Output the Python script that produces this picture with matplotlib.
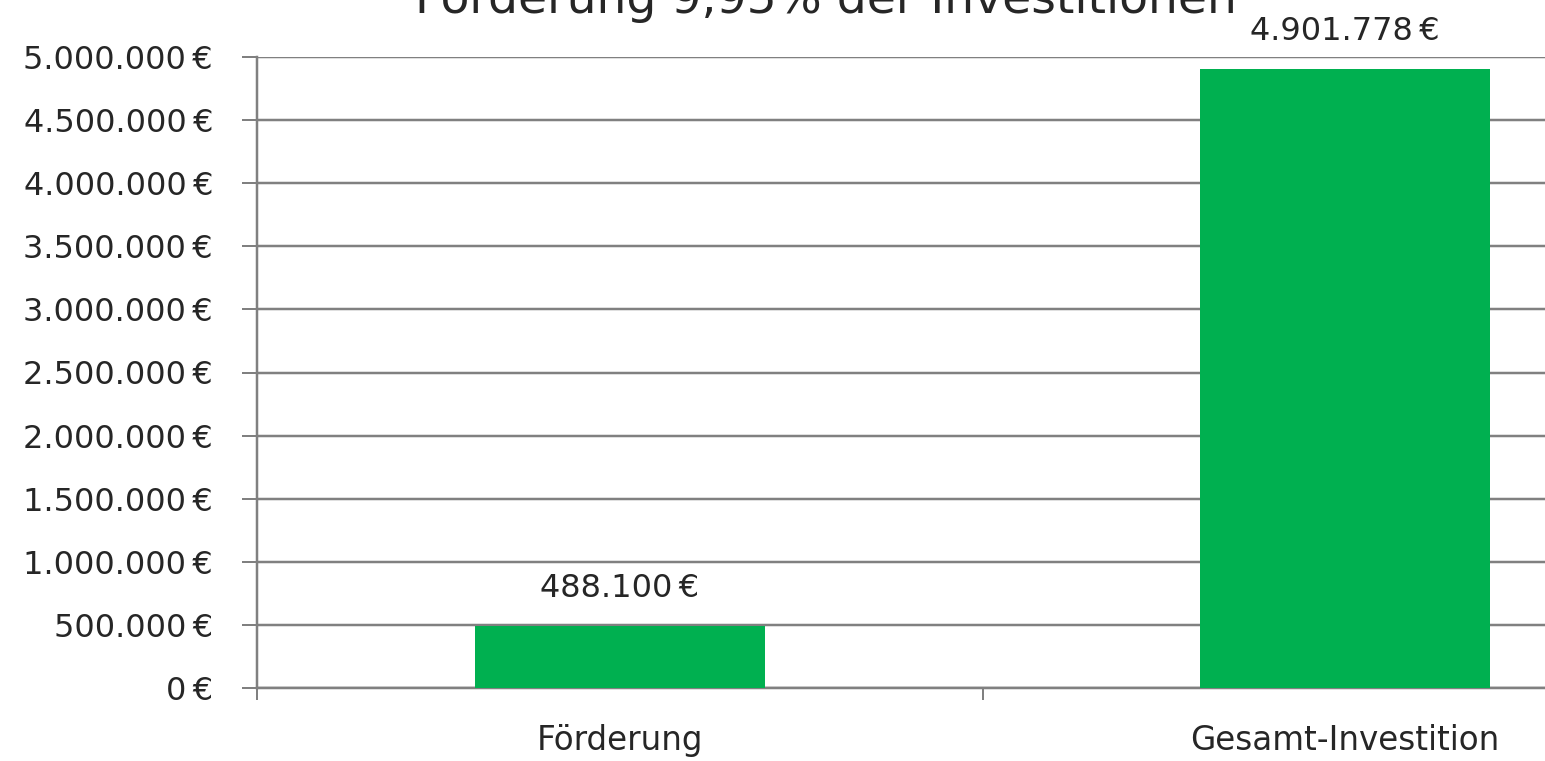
import matplotlib
matplotlib.use("Agg")
import matplotlib.pyplot as plt
from matplotlib.ticker import FuncFormatter, MultipleLocator

categories = ["Förderung", "Gesamt-Investition"]
values = [488100, 4901778]
title = "Förderung 9,95% der Investitionen"

def euro(v):
    return f"{int(round(v)):,}".replace(",", ".") + "\u2009€"

plt.rcParams['font.family'] = ['DejaVu Sans']

W, H = 1545, 761
PX = 72 / 100  # points per pixel
fig = plt.figure(figsize=(W / 100, H / 100), dpi=100)
left_px, right_px = 257, 1708
bottom_px, top_px = 688, 57
ax = fig.add_axes([left_px / W, (H - bottom_px) / H,
                   (right_px - left_px) / W, (bottom_px - top_px) / H])

x = list(range(len(categories)))
ax.bar(x, values, width=0.4, color="#00B050", zorder=3)
ax.set_xlim(-0.5, 1.5)
ax.set_ylim(0, 5000000)
ax.yaxis.set_major_locator(MultipleLocator(500000))
ax.yaxis.set_major_formatter(FuncFormatter(lambda v, p: euro(v)))
ax.grid(axis='y', color="#808080", linewidth=2.5 * PX, zorder=1)

for s in ['top', 'right']:
    ax.spines[s].set_visible(False)
for s in ['left', 'bottom']:
    ax.spines[s].set_color("#808080")
    ax.spines[s].set_linewidth(2.5 * PX)

txt = "#262626"
ax.set_xticks([-0.5, 0.5, 1.5])
ax.set_xticklabels([])
ax.set_xticks(x, minor=True)
ax.set_xticklabels(categories, minor=True)
ax.tick_params(axis='x', which='minor', length=0, pad=36 * PX, labelsize=23.5, labelcolor=txt)
ax.tick_params(axis='x', which='major', length=12 * PX, width=2 * PX, color="#808080")
ax.tick_params(axis='y', length=15 * PX, width=2 * PX, color="#808080", labelsize=23,
               labelcolor=txt, pad=29 * PX)

for xi, v in zip(x, values):
    ax.annotate(euro(v), (xi, v), xytext=(0, 29 * PX), textcoords='offset points',
                ha='center', va='baseline', fontsize=23, color=txt)

fig.text(826 / W, 1 - 13 / H, title, ha='center', va='baseline',
         fontsize=34, color=txt)

fig.savefig("out.png", dpi=100)
